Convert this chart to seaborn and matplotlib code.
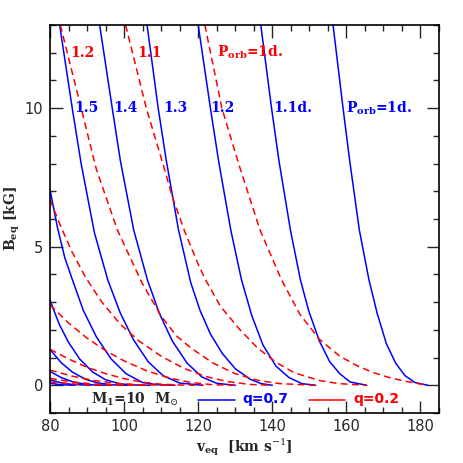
import matplotlib
matplotlib.use("Agg")
import matplotlib.pyplot as plt
import seaborn as sns
from matplotlib.ticker import MultipleLocator

# ---- data: blue solid (q=0.7), Porb = 1.0 ... 2.1 d ----
blue_P10_v = [156.4, 159.1, 160.9, 163.5, 166.1, 168.3, 170.8, 173.3, 175.8, 178.5, 182.0]
blue_P10_B = [13.0, 10.0, 8.1, 5.6, 3.8, 2.6, 1.5, 0.8, 0.35, 0.1, 0.0]
blue_P11_v = [136.9, 139.8, 141.8, 144.9, 147.6, 149.8, 152.7, 155.5, 158.2, 161.0, 165.5]
blue_P11_B = [13.0, 10.0, 8.1, 5.6, 3.8, 2.7, 1.6, 0.85, 0.42, 0.12, 0.0]
blue_P12_v = [120.0, 123.3, 125.5, 128.8, 131.7, 134.5, 137.5, 141.0, 144.5, 148.0, 151.7]
blue_P12_B = [13.0, 10.0, 8.1, 5.6, 3.8, 2.5, 1.45, 0.69, 0.28, 0.06, 0.0]
blue_P13_v = [106.2, 109.2, 111.4, 114.7, 118.0, 120.5, 123.3, 126.5, 130.0, 134.0, 137.0, 140.0]
blue_P13_B = [13.0, 10.0, 8.1, 5.6, 3.7, 2.7, 1.85, 1.15, 0.6, 0.22, 0.06, 0.0]
blue_P14_v = [93.4, 96.8, 99.0, 102.6, 106.3, 109.5, 113.0, 117.0, 121.0, 125.0, 130.0]
blue_P14_B = [13.0, 10.0, 8.1, 5.6, 3.8, 2.6, 1.6, 0.8, 0.3, 0.07, 0.0]
blue_P15_v = [82.6, 86.0, 88.4, 92.0, 95.6, 99.0, 102.5, 106.5, 110.5, 115.0, 121.3]
blue_P15_B = [13.0, 10.0, 8.0, 5.5, 3.8, 2.6, 1.65, 0.85, 0.35, 0.08, 0.0]
blue_P16_v = [80.0, 82.0, 84.0, 86.2, 89.0, 92.5, 96.5, 100.5, 105.0, 109.0, 113.75]
blue_P16_B = [7.06, 5.7, 4.6, 3.75, 2.7, 1.75, 0.95, 0.42, 0.1, 0.02, 0.0]
blue_P17_v = [80.0, 82.5, 85.0, 88.0, 91.5, 95.0, 99.0, 103.0, 107.0]
blue_P17_B = [3.07, 2.2, 1.55, 0.95, 0.48, 0.2, 0.05, 0.01, 0.0]
blue_P18_v = [80.0, 83.0, 86.0, 89.5, 93.0, 97.0, 101.1]
blue_P18_B = [1.29, 0.82, 0.48, 0.22, 0.08, 0.015, 0.0]
blue_P19_v = [80.0, 83.0, 86.0, 89.0, 92.0, 95.8]
blue_P19_B = [0.5, 0.28, 0.13, 0.05, 0.01, 0.0]
blue_P20_v = [80.0, 83.0, 86.0, 91.0]
blue_P20_B = [0.2, 0.09, 0.03, 0.0]
blue_P21_v = [80.0, 83.0, 86.7]
blue_P21_B = [0.07, 0.02, 0.0]

# ---- red dashed (q=0.2), Porb = 1.0 ... 1.8 d ----
red_P10_v = [121.8, 126.4, 130.9, 136.7, 142.5, 147.5, 152.8, 158.2, 163.0, 167.0, 171.0, 175.0, 179.0, 182.0]
red_P10_B = [13.0, 10.0, 8.0, 5.6, 3.8, 2.55, 1.65, 1.05, 0.7, 0.47, 0.3, 0.17, 0.07, 0.0]
red_P11_v = [100.4, 106.0, 110.9, 113.0, 116.5, 119.9, 121.8, 126.0, 131.3, 136.0, 141.2, 146.0, 152.8, 158.0, 165.5]
red_P11_B = [13.0, 10.0, 7.8, 6.8, 5.5, 4.4, 3.85, 2.85, 2.0, 1.35, 0.81, 0.45, 0.17, 0.06, 0.0]
red_P12_v = [82.8, 88.4, 92.5, 98.2, 104.8, 110.0, 114.0, 118.0, 124.0, 130.0, 136.0, 142.0, 151.7]
red_P12_B = [13.0, 10.0, 7.8, 5.6, 3.7, 2.5, 1.8, 1.35, 0.8, 0.42, 0.18, 0.06, 0.0]
red_P13_v = [80.0, 83.0, 86.0, 89.8, 94.0, 99.0, 104.0, 110.0, 116.0, 122.0, 128.0, 134.0, 140.0]
red_P13_B = [6.7, 5.7, 4.8, 3.85, 3.0, 2.2, 1.6, 1.05, 0.62, 0.32, 0.13, 0.03, 0.0]
red_P14_v = [80.0, 85.0, 90.0, 95.0, 100.0, 106.0, 112.0, 118.0, 124.0, 130.0]
red_P14_B = [2.9, 2.25, 1.7, 1.25, 0.88, 0.53, 0.27, 0.1, 0.02, 0.0]
red_P15_v = [80.0, 85.0, 90.0, 95.0, 100.0, 105.0, 110.0, 115.0, 121.3]
red_P15_B = [1.3, 0.95, 0.65, 0.42, 0.24, 0.11, 0.04, 0.01, 0.0]
red_P16_v = [80.0, 86.0, 92.0, 98.0, 104.0, 113.75]
red_P16_B = [0.55, 0.33, 0.17, 0.07, 0.02, 0.0]
red_P17_v = [80.0, 86.0, 92.0, 98.0, 107.0]
red_P17_B = [0.25, 0.12, 0.04, 0.01, 0.0]
red_P18_v = [80.0, 86.0, 92.0, 101.1]
red_P18_B = [0.12, 0.05, 0.01, 0.0]

blue_curves = [(blue_P10_v, blue_P10_B), (blue_P11_v, blue_P11_B), (blue_P12_v, blue_P12_B),
               (blue_P13_v, blue_P13_B), (blue_P14_v, blue_P14_B), (blue_P15_v, blue_P15_B),
               (blue_P16_v, blue_P16_B), (blue_P17_v, blue_P17_B), (blue_P18_v, blue_P18_B),
               (blue_P19_v, blue_P19_B), (blue_P20_v, blue_P20_B), (blue_P21_v, blue_P21_B)]
red_curves = [(red_P10_v, red_P10_B), (red_P11_v, red_P11_B), (red_P12_v, red_P12_B),
              (red_P13_v, red_P13_B), (red_P14_v, red_P14_B), (red_P15_v, red_P15_B),
              (red_P16_v, red_P16_B), (red_P17_v, red_P17_B), (red_P18_v, red_P18_B)]

blue_labels = ["1.5", "1.4", "1.3", "1.2", "1.1d.", r"P$_{\mathbf{orb}}$=1d."]
blue_label_x = [86.6, 97.2, 110.6, 123.2, 140.2, 160.0]
red_labels = ["1.2", "1.1", r"P$_{\mathbf{orb}}$=1d."]
red_label_x = [85.6, 103.6, 125.0]

sns.set_style("white")
plt.rcParams['font.family'] = ['DejaVu Serif', 'DejaVu Sans']
plt.rcParams['mathtext.fontset'] = 'dejavuserif'

fig = plt.figure(figsize=(4.63, 4.63), dpi=100)
ax = fig.add_axes([50/463, 50/463, 389/463, 388/463])

for v, B in blue_curves:
    sns.lineplot(x=v, y=B, ax=ax, color="#0000ff", lw=1.1, sort=False, estimator=None)
for v, B in red_curves:
    sns.lineplot(x=v, y=B, ax=ax, color="#ff0000", lw=1.1, sort=False, estimator=None,
                 linestyle=(0, (4.5, 2.8)))

ax.set_xlim(80, 185)
ax.set_ylim(-1, 13)
ax.xaxis.set_major_locator(MultipleLocator(20))
ax.xaxis.set_minor_locator(MultipleLocator(5))
ax.yaxis.set_major_locator(MultipleLocator(5))
ax.yaxis.set_minor_locator(MultipleLocator(1))
ax.tick_params(which='both', direction='in', top=True, right=True, bottom=True, left=True,
               width=1.0, labelsize=10.5)
ax.tick_params(axis='x', pad=4)
ax.tick_params(axis='y', pad=5)
ax.tick_params(which='major', length=9)
ax.tick_params(which='minor', length=4.5)
for lab in ax.get_xticklabels() + ax.get_yticklabels():
    lab.set_fontfamily('DejaVu Sans')
for s in ax.spines.values():
    s.set_linewidth(1.2)
    s.set_color('black')

ax.set_xlabel(r"v$_{\mathbf{eq}}$  [km s$^{-1}$]", fontsize=10, fontweight='bold')
ax.set_ylabel(r"B$_{\mathbf{eq}}$ [kG]", fontsize=10, fontweight='bold')
ax.xaxis.set_label_coords(0.5, -0.088)
ax.yaxis.set_label_coords(-0.098, 0.5)
ax.xaxis.label.set_verticalalignment('center')
ax.yaxis.label.set_verticalalignment('center')

for t, x in zip(blue_labels, blue_label_x):
    ax.text(x, 10.0, t, color="#0000ff", fontsize=10, fontweight='bold', va='center', ha='left')
for t, x in zip(red_labels, red_label_x):
    ax.text(x, 12.0, t, color="#ff0000", fontsize=10, fontweight='bold', va='center', ha='left')

ax.text(91.2, -0.5, r"M$_{\mathbf{1}}$=10  M$_{\odot}$", fontsize=10, fontweight='bold', va='center', ha='left')
ax.plot([120, 130], [-0.52, -0.52], color="#0000ff", lw=1.1)
ax.text(132.0, -0.5, "q=0.7", color="#0000ff", fontsize=10, fontweight='bold', va='center', ha='left', family='DejaVu Sans')
ax.plot([150, 159.6], [-0.52, -0.52], color="#ff0000", lw=1.1)
ax.text(161.8, -0.5, "q=0.2", color="#ff0000", fontsize=10, fontweight='bold', va='center', ha='left', family='DejaVu Sans')

fig.savefig("out.png", dpi=100)
